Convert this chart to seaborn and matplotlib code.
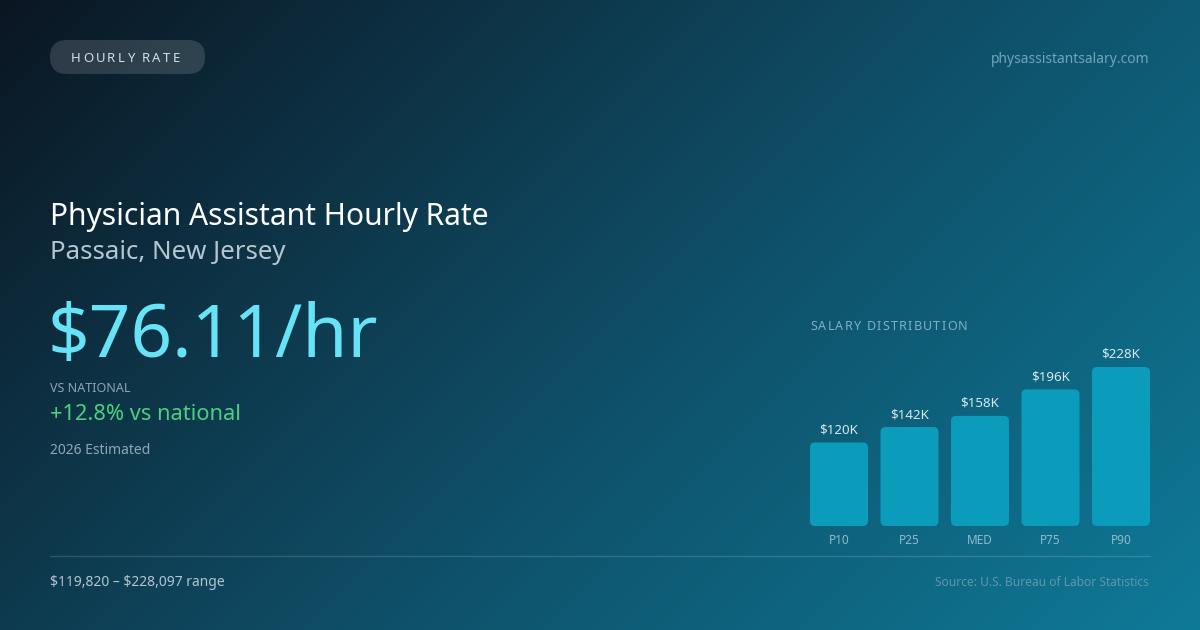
import numpy as np
import pandas as pd
import matplotlib
matplotlib.use("Agg")
import matplotlib.pyplot as plt
import seaborn as sns
from matplotlib.colors import LinearSegmentedColormap
from matplotlib.patches import FancyBboxPatch

# dados
labels = ["P10", "P25", "MED", "P75", "P90"]
salaries_k = [119.82, 142, 158, 196, 228.097]
bar_texts = ["$120K", "$142K", "$158K", "$196K", "$228K"]

title = "Physician Assistant Hourly Rate"
location = "Passaic, New Jersey"
hourly = "$76.11/hr"
vs_nat = "+12.8% vs national"
range_txt = "$119,820 \u2013 $228,097 range"

sns.set_theme(style="white")
plt.rcParams["font.family"] = ["Noto Sans", "DejaVu Sans"]
plt.rcParams["text.parse_math"] = False

W, H = 1200, 630
fig = plt.figure(figsize=(12, 6.3), dpi=100)

# fundo em gradiente diagonal
bg = fig.add_axes([0, 0, 1, 1])
yy, xx = np.mgrid[0:H, 0:W]
t = (xx + yy) / (W + H)
cmap = LinearSegmentedColormap.from_list(
    "bg", [(0, "#0b1622"), (0.5, "#0f4b63"), (1, "#0e7a98")])
bg.imshow(t, cmap=cmap, aspect="auto", extent=[0, W, H, 0], vmin=0, vmax=1)
bg.set_xlim(0, W)
bg.set_ylim(H, 0)
bg.axis("off")


def px(x, y):
    return x / W, 1 - y / H


def spaced(x, y, s, gap, **kw):
    # texto com espaçamento entre letras
    r = fig.canvas.get_renderer()
    for ch in s:
        t = fig.text(*px(x, y), ch, va="baseline", ha="left", **kw)
        w = t.get_window_extent(renderer=r).width
        if ch == " ":
            w = kw.get("fontsize", 10) * 0.26 * 100 / 72
        x += w + gap


# pílula "HOURLY RATE"
bg.add_patch(FancyBboxPatch((50, 40), 155, 34,
                            boxstyle="round,pad=0,rounding_size=17",
                            fc=(1, 1, 1, 0.14), ec="none"))
spaced(71, 62, "HOURLY RATE", 2.2, fontsize=9.5, color="#d3dee6")

fig.text(*px(1149, 63), "physassistantsalary.com", ha="right", va="baseline",
         fontsize=10, color="#6fa5ba")

# textos principais
fig.text(*px(50, 225), title, fontsize=21.6, color="white", va="baseline")
fig.text(*px(50, 259), location, fontsize=18.6, color="#b5c6d1", va="baseline")
fig.text(*px(48, 357), hourly, fontsize=52.5, color="#67e3f7", va="baseline")
fig.text(*px(50, 392), "VS NATIONAL", fontsize=9, color="#8ea4b1", va="baseline")
fig.text(*px(50, 420), vs_nat, fontsize=15.7, color="#4ad07f", va="baseline")
fig.text(*px(50, 454), "2026 Estimated", fontsize=10, color="#8fa6b4", va="baseline")

# linha divisória e rodapé
bg.plot([50, 1150], [556, 556], color=(1, 1, 1, 0.15), lw=1)
fig.text(*px(50, 586), range_txt, fontsize=10, color="#b3c5d0", va="baseline")
fig.text(*px(1149, 586), "Source: U.S. Bureau of Labor Statistics", ha="right",
         va="baseline", fontsize=8.6, color="#5f96ab")

# distribuição salarial
spaced(810, 330, "SALARY DISTRIBUTION", 1.25, fontsize=9, color="#7fb0c4")

ax = fig.add_axes([810 / W, (H - 526) / H, 340 / W, 159 / H])
df = pd.DataFrame({"pct": labels, "sal": salaries_k})
sns.barplot(data=df, x="pct", y="sal", ax=ax, width=0.823, color="#0a9cba",
            saturation=1)
ax.set_ylim(0, max(salaries_k))
ax.set_xlim(-0.5 + 0.0885, 4.5 - 0.0885)
ax.set_facecolor("none")
for s in ax.spines.values():
    s.set_visible(False)
ax.set_xlabel("")
ax.set_ylabel("")
ax.set_yticks([])
ax.tick_params(axis="x", length=0, pad=6, labelsize=8.5, labelcolor="#8dbccc")

# cantos arredondados
xs = (ax.get_xlim()[1] - ax.get_xlim()[0]) / 340
ys = max(salaries_k) / 159
for p in list(ax.patches):
    x0, w, h = p.get_x(), p.get_width(), p.get_height()
    fc = p.get_facecolor()
    p.remove()
    ax.add_patch(FancyBboxPatch((x0, 0), w, h,
                                boxstyle=f"round,pad=0,rounding_size={5 * xs}",
                                mutation_aspect=ys / xs, fc=fc, ec="none",
                                clip_on=False))

for i, (v, s) in enumerate(zip(salaries_k, bar_texts)):
    ax.annotate(s, (i, v), xytext=(0, 9), textcoords="offset pixels",
                ha="center", va="baseline", fontsize=9.6, color="#d6e8ef",
                annotation_clip=False)

fig.savefig("out.png", dpi=100)
